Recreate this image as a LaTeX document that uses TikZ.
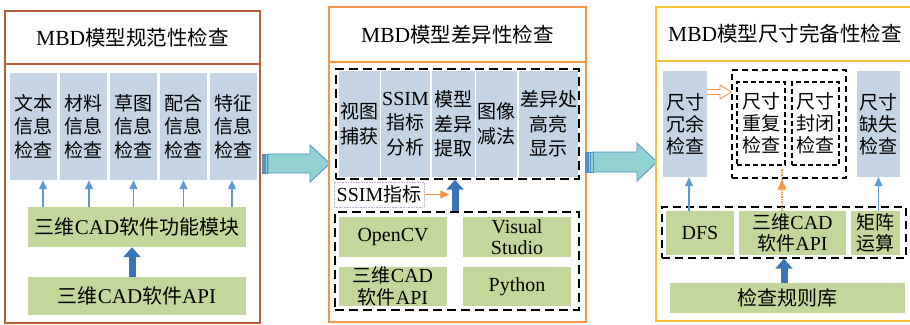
\documentclass[tikz,border=0pt]{standalone}
\usepackage{fontspec}
\setmainfont{Liberation Serif}[Scale=1.05]
\newfontfamily\cjk{Noto Sans CJK SC}
\newcommand\en[1]{{\rmfamily #1}}
\usetikzlibrary{arrows.meta}
\definecolor{boxblue}{RGB}{196,212,228}
\definecolor{boxgreen}{RGB}{196,215,155}
\definecolor{frameA}{RGB}{181,96,58}
\definecolor{frameB}{RGB}{245,150,70}
\definecolor{frameC}{RGB}{247,193,50}
\definecolor{arrowblue}{RGB}{91,155,213}
\definecolor{thickblue}{RGB}{58,116,184}
\definecolor{bigfill}{RGB}{146,210,210}
\definecolor{bigline}{RGB}{80,145,200}
\definecolor{ssimline}{RGB}{190,170,205}
\begin{document}
\begin{tikzpicture}[x=1pt,y=-1pt,
  every node/.style={inner sep=0pt, align=center},
  bluebox/.style={fill=boxblue, font=\cjk\fontsize{19}{#1}\selectfont},
  bluebox/.default=23.5,
  greenbox/.style={fill=boxgreen, font=\cjk\fontsize{19}{21.5}\selectfont},
  titletext/.style={font=\cjk\fontsize{20.5}{24}\selectfont},
  framebox/.style={line width=1.8pt},
  dashbox/.style={draw=black, line width=1.4pt, dash pattern=on 9pt off 5pt},
  smalldash/.style={draw=black, line width=1.1pt, dash pattern=on 5pt off 3pt},
  thinarrow/.style={draw=arrowblue, line width=1.2pt, -{Triangle[width=8pt,length=9pt]}},
  thickarrow/.style={draw=thickblue, line width=7pt, -{Triangle[width=17pt,length=10pt]}},
  orangearrow/.style={draw=frameB, line width=1.2pt, -{Triangle[width=8pt,length=9pt]}},
  bigarrow/.style={fill=bigfill, draw=bigline, line width=0.8pt}
]
\useasboundingbox (0,0) rectangle (910,324);

% ---------------- Panel 1 ----------------
\draw[framebox, draw=frameA] (5,11) rectangle (260,323);
\draw[framebox, draw=frameA] (5,64) -- (260,64);
\node[titletext] (t1) at (132.5,38) {\en{MBD}模型规范性检查};

\node[bluebox, minimum width=47pt, minimum height=107pt] (a1) at (33.5,126.5) {文本\\信息\\检查};
\node[bluebox, minimum width=47pt, minimum height=107pt] (a2) at (83.5,126.5) {材料\\信息\\检查};
\node[bluebox, minimum width=47pt, minimum height=107pt] (a3) at (133.5,126.5) {草图\\信息\\检查};
\node[bluebox, minimum width=47pt, minimum height=107pt] (a4) at (183.5,126.5) {配合\\信息\\检查};
\node[bluebox, minimum width=47pt, minimum height=107pt] (a5) at (233.5,126.5) {特征\\信息\\检查};

\node[greenbox, minimum width=218pt, minimum height=40pt, font=\cjk\fontsize{20}{22}\selectfont] (g1) at (137,227) {三维\en{CAD}软件功能模块};
\node[greenbox, minimum width=218pt, minimum height=38pt, font=\cjk\fontsize{20}{22}\selectfont] (g2) at (137,296) {三维\en{CAD}软件\en{API}};

\draw[thinarrow] ([xshift=9.5pt]a1.south |- g1.north) -- ([xshift=9.5pt]a1.south);
\draw[thinarrow] ([xshift=5.5pt]a2.south |- g1.north) -- ([xshift=5.5pt]a2.south);
\draw[thinarrow] (a3.south |- g1.north) -- (a3.south);
\draw[thinarrow] (a4.south |- g1.north) -- (a4.south);
\draw[thinarrow] ([xshift=-1.5pt]a5.south |- g1.north) -- ([xshift=-1.5pt]a5.south);
\draw[thickarrow] ([xshift=-5pt]g2.north) -- ([xshift=-5pt]g1.south);

% big arrow 1
\draw[bigarrow] (268,154) -- (310,154) -- (310,145) -- (330,163.5) -- (310,182) -- (310,173) -- (268,173) -- cycle;
\draw[fill=bigline, draw=bigline, line width=0.5pt] (262,154) rectangle (264,173);
\draw[fill=bigfill, draw=bigline, line width=0.6pt] (265,154) rectangle (267.5,173);

% ---------------- Panel 2 ----------------
\draw[framebox, draw=frameB] (329,7) rectangle (586,322);
\draw[framebox, draw=frameB] (329,62) -- (586,62);
\node[titletext] (t2) at (457.5,35) {\en{MBD}模型差异性检查};

\node[dashbox, minimum width=243pt, minimum height=110pt] (d1) at (457.5,124) {};
\node[bluebox=24.5, minimum width=41pt, minimum height=106pt] (b1) at (359.5,124) {视图\\捕获};
\node[bluebox=24.5, minimum width=49pt, minimum height=106pt] (b2) at (405.5,124) {\en{SSIM}\\指标\\分析};
\node[bluebox=24.5, minimum width=43pt, minimum height=106pt] (b3) at (453.5,124) {模型\\差异\\提取};
\node[bluebox=24.5, minimum width=41pt, minimum height=106pt] (b4) at (496.5,124) {图像\\减法};
\node[bluebox=24.5, minimum width=59pt, minimum height=106pt] (b5) at (548.5,124) {差异处\\高亮\\显示};

\node[draw=ssimline, densely dotted, line width=0.6pt, minimum width=90pt, minimum height=25pt, font=\cjk\fontsize{19}{22}\selectfont] (ssim) at (379,194.5) {\en{SSIM}指标};
\draw[orangearrow] (ssim.east) -- ++(25,0);

\node[dashbox, minimum width=244pt, minimum height=98pt] (d2) at (457,261) {};
\node[greenbox, minimum width=108pt, minimum height=40pt] (o1) at (393,237) {\en{OpenCV}};
\node[greenbox, minimum width=108pt, minimum height=40pt] (o2) at (517,237) {\en{Visual}\\\en{Studio}};
\node[greenbox, minimum width=108pt, minimum height=39pt] (o3) at (393,286.5) {三维\en{CAD}\\软件\en{API}};
\node[greenbox, minimum width=108pt, minimum height=39pt] (o4) at (517,286.5) {\en{Python}};

\draw[thickarrow] ([xshift=1.5pt]b3.south |- d2.north) -- ([xshift=1.5pt]b3.south |- d1.south);

% big arrow 2
\draw[bigarrow] (593,152) -- (637,152) -- (637,143) -- (657,162) -- (637,181) -- (637,172) -- (593,172) -- cycle;
\draw[fill=bigline, draw=bigline, line width=0.5pt] (585,152) rectangle (587,172);
\draw[fill=bigfill, draw=bigline, line width=0.6pt] (588,152) rectangle (590.5,172);
\draw[fill=bigfill, draw=bigline, line width=0.6pt] (590.5,152) rectangle (593,172);

% ---------------- Panel 3 ----------------
\draw[framebox, draw=frameC] (912,7) -- (656,7) -- (656,321) -- (912,321);
\draw[framebox, draw=frameC] (656,61) -- (912,61);
\node[titletext] (t3) at (785,34) {\en{MBD}模型尺寸完备性检查};

\node[bluebox=22, minimum width=44pt, minimum height=106pt] (c1) at (685,124) {尺寸\\冗余\\检查};
\node[dashbox, dash pattern=on 6pt off 4pt, line width=1.2pt, minimum width=114pt, minimum height=108pt] (d3) at (789,124) {};
\node[smalldash, minimum width=48pt, minimum height=83pt, font=\cjk\fontsize{19}{22}\selectfont] (c2) at (761,123.5) {尺寸\\重复\\检查};
\node[smalldash, minimum width=47pt, minimum height=83pt, font=\cjk\fontsize{19}{22}\selectfont] (c3) at (815.5,123.5) {尺寸\\封闭\\检查};
\node[bluebox=22, minimum width=43pt, minimum height=106pt] (c4) at (878.5,124) {尺寸\\缺失\\检查};

\node[dashbox, dash pattern=on 8pt off 5pt, minimum width=244pt, minimum height=51pt] (d4) at (784,232.5) {};
\node[greenbox, minimum width=68pt, minimum height=44pt] (f1) at (700,233) {\en{DFS}};
\node[greenbox, minimum width=107pt, minimum height=44pt] (f2) at (792.5,233) {三维\en{CAD}\\软件\en{API}};
\node[greenbox, minimum width=49pt, minimum height=44pt] (f3) at (875.5,233) {矩阵\\运算};
\node[greenbox, minimum width=235pt, minimum height=30pt, font=\cjk\fontsize{20}{22}\selectfont] (rules) at (787.5,298) {检查规则库};

\draw[thickarrow] ([xshift=-3.5pt]rules.north) -- ([xshift=-3.5pt]rules.north |- d4.south);
\draw[thinarrow] ([xshift=-11pt]f1.north) -- ([xshift=-11pt]f1.north |- c1.south);
\draw[thinarrow] (c4.south |- f3.north) -- (c4.south);
\draw[draw=frameB, line width=1.2pt, densely dotted] ([xshift=-10.5pt]f2.north) -- ([xshift=-10.5pt,yshift=10pt]f2.north |- d3.south);
\fill[frameB] ([xshift=-10.5pt]f2.north |- d3.south) ++(0,1) -- ++(4.5,10) -- ++(-9,0) -- cycle;

% hollow orange arrow
\draw[draw=frameB, fill=white, line width=0.9pt] (c1.east |- 0,89.5) -- (720,89.5) -- (720,85) -- (d3.west |- 0,92) -- (720,99) -- (720,94.5) -- (c1.east |- 0,94.5);

\end{tikzpicture}
\end{document}
